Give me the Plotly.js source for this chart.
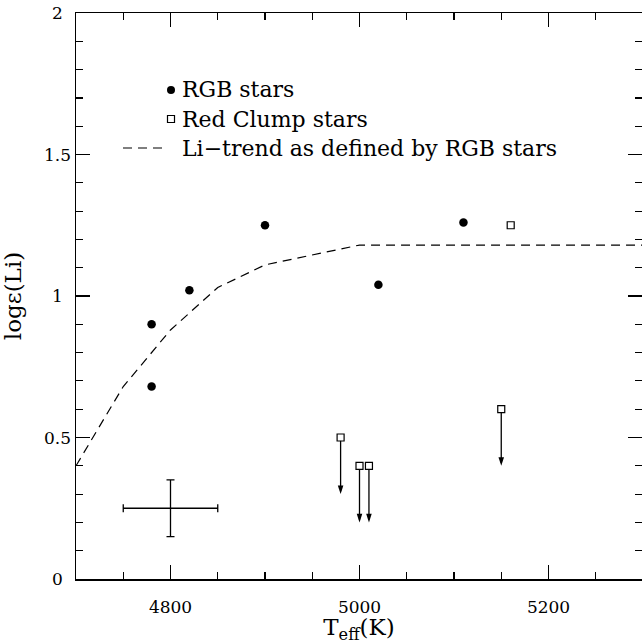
<!DOCTYPE html>
<html>
<head>
<meta charset="utf-8">
<script src="https://cdn.plot.ly/plotly-3.0.1.min.js"></script>
<style>html,body{margin:0;padding:0;background:#fff;} #chart{width:642px;height:644px;}</style>
</head>
<body>
<div id="chart"></div>
<script>
// RGB stars (filled circles)
const rgbTeff = [4780, 4780, 4820, 4900, 5020, 5110];
const rgbLi   = [0.90, 0.68, 1.02, 1.25, 1.04, 1.26];
// Red Clump stars, detections
const rcTeff = [5160];
const rcLi   = [1.25];
// Red Clump stars, upper limits
const rcLimTeff = [4980, 5000, 5010, 5150];
const rcLimLi   = [0.50, 0.40, 0.40, 0.60];
const limitArrowLength = 0.2;
// Li trend defined by RGB stars
const trendTeff = [4700, 4750, 4800, 4850, 4900, 5000, 5300];
const trendLi   = [0.40, 0.68, 0.88, 1.03, 1.11, 1.18, 1.18];
// typical error bar
const errTeff = [4800], errLi = [0.25], errTeffSize = [50], errLiSize = [0.1];
// y tick labels (drawn centred, as in the reference)
const yTickVals = [0, 0.5, 1, 1.5, 2];
const yTickText = ["0", "0.5", "1", "1.5", "2"];
// legend labels
const legendLabels = ["RGB stars", "Red Clump stars", "Li\u2212trend as defined by RGB stars"];

const FONT = "DejaVu Serif";
const L = 76, T = 13, W = 566, H = 566;
const px = p => (p - L) / W;
const py = p => (T + H - p) / H;

// arrow shafts and tips from the upper-limit values
const shaftX = [], shaftY = [], tipX = [], tipY = [];
rcLimTeff.forEach((t, i) => {
  shaftX.push(t, t, null);
  shaftY.push(rcLimLi[i] - 0.012, rcLimLi[i] - limitArrowLength + 0.01, null);
  tipX.push(t);
  tipY.push(rcLimLi[i] - limitArrowLength);
});

const traces = [
  {x: trendTeff, y: trendLi, mode: 'lines', line: {color: '#000', width: 1.2, dash: '9px,6px'}, hoverinfo: 'skip'},
  {x: rgbTeff, y: rgbLi, mode: 'markers', marker: {symbol: 'circle', size: 8.5, color: '#000'}},
  {x: rcTeff.concat(rcLimTeff), y: rcLi.concat(rcLimLi), mode: 'markers',
   marker: {symbol: 'square-open', size: 7, color: '#000', line: {width: 1.2}}},
  {x: shaftX, y: shaftY, mode: 'lines', line: {color: '#000', width: 1.3}},
  {x: tipX, y: tipY, mode: 'markers', marker: {symbol: 'arrow', angle: 180, size: 9, color: '#000'}},
  {x: errTeff, y: errLi, mode: 'markers', marker: {size: 1, color: 'rgba(0,0,0,0)'},
   error_x: {type: 'data', array: errTeffSize, visible: true, color: '#000', thickness: 1.3, width: 4},
   error_y: {type: 'data', array: errLiSize, visible: true, color: '#000', thickness: 1.3, width: 4}}
];

const axisCommon = {
  showgrid: false, zeroline: false, showline: true, linecolor: '#000', linewidth: 1.5,
  mirror: 'ticks', ticks: 'inside', ticklen: 14, tickwidth: 1.2, tickcolor: '#000',
  tickfont: {family: FONT, size: 17, color: '#000'}
};

const tickLabelAnn = yTickVals.map((v, i) => ({
  text: yTickText[i], xref: 'paper', yref: 'y', x: px(57), y: v,
  xanchor: 'center', yanchor: 'middle', showarrow: false,
  font: {family: FONT, size: 17, color: '#000'}
}));

const legendAnn = legendLabels.map((t, i) => ({
  text: t, xref: 'paper', yref: 'paper', x: px(180), y: py(90 + 29 * i),
  xanchor: 'left', yanchor: 'middle', showarrow: false,
  font: {family: FONT, size: 22, color: '#000'}
}));

const layout = {
  width: 642, height: 644,
  margin: {l: L, r: 0, t: T, b: 644 - T - H},
  paper_bgcolor: '#fff', plot_bgcolor: '#fff',
  showlegend: false,
  font: {family: FONT, color: '#000'},
  xaxis: Object.assign({}, axisCommon, {
    range: [4700, 4700 + 600 * 566 / 567], dtick: 200, tick0: 0,
    minor: {dtick: 50, ticks: 'inside', ticklen: 7, tickwidth: 1.2, tickcolor: '#000'},
    ticklabelstandoff: 12,
    title: {text: 'T<sub>eff</sub>(K)', font: {family: FONT, size: 23, color: '#000'}, standoff: 4}
  }),
  yaxis: Object.assign({}, axisCommon, {
    range: [0, 2], dtick: 0.5, tick0: 0, showticklabels: false,
    minor: {dtick: 0.1, ticks: 'inside', ticklen: 7, tickwidth: 1.2, tickcolor: '#000'},
    title: {text: 'log\u03b5(Li)', font: {family: FONT, size: 23, color: '#000'}, standoff: 46}
  }),
  shapes: [
    {type: 'circle', xref: 'paper', yref: 'paper', xsizemode: 'pixel', ysizemode: 'pixel',
     xanchor: px(171), yanchor: py(90), x0: -4, x1: 4, y0: -4, y1: 4,
     fillcolor: '#000', line: {color: '#000', width: 0}},
    {type: 'rect', xref: 'paper', yref: 'paper', xsizemode: 'pixel', ysizemode: 'pixel',
     xanchor: px(171), yanchor: py(119), x0: -3.5, x1: 3.5, y0: -3.5, y1: 3.5,
     line: {color: '#000', width: 1.2}},
    {type: 'line', xref: 'paper', yref: 'paper', x0: px(123), x1: px(163), y0: py(148), y1: py(148),
     line: {color: '#000', width: 1.2, dash: '9px,6px'}}
  ],
  annotations: tickLabelAnn.concat(legendAnn)
};

Plotly.newPlot('chart', traces, layout, {staticPlot: true, displayModeBar: false});
</script>
</body>
</html>
